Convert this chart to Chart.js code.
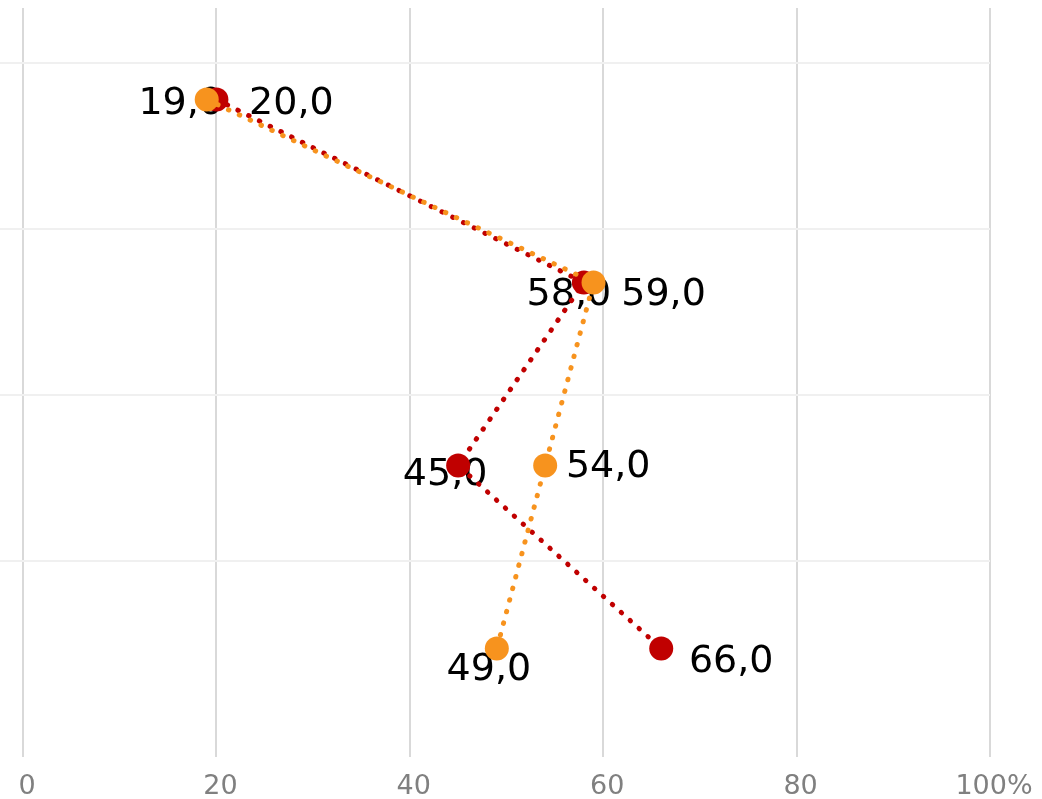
<!DOCTYPE html>
<html>
<head>
<meta charset="utf-8">
<script src="https://cdn.jsdelivr.net/npm/chart.js@4"></script>
<style>
    html, body { margin: 0; padding: 0; background: #ffffff; }
    #wrap { width: 1042px; height: 799px; position: relative; }
</style>
</head>
<body>
<div id="wrap"><canvas id="dotChart"></canvas></div>
<script>
// Data
const categories = ['1', '2', '3', '4'];
const redValues = [20, 58, 45, 66];
const orangeValues = [19, 59, 54, 49];
const xTicks = [0, 20, 40, 60, 80, 100];

// label placement (pixel offsets from each point)
const redLabelOffsets = [[75, 5], [-15, 13], [-13, 10], [70, 14]];
const orangeLabelOffsets = [[-26, 5], [70, 13], [63, 2], [-8, 22]];

const RED = '#C00000';
const ORANGE = '#F7931E';
const FONT = "'DejaVu Sans', Verdana, sans-serif";

function formatValue(v) {
    return v.toFixed(1).replace('.', ',');
}

// draws the value labels underneath the points
const valueLabels = {
    id: 'valueLabels',
    beforeDatasetsDraw(chart) {
        const ctx = chart.ctx;
        ctx.save();
        ctx.font = '38px ' + FONT;
        ctx.fillStyle = '#000000';
        ctx.textAlign = 'center';
        ctx.textBaseline = 'middle';
        chart.data.datasets.forEach((ds, i) => {
            const meta = chart.getDatasetMeta(i);
            meta.data.forEach((pt, j) => {
                const off = ds.labelOffsets[j];
                ctx.fillText(formatValue(ds.data[j]), pt.x + off[0], pt.y + off[1]);
            });
        });
        ctx.restore();
    }
};

const ctx = document.getElementById('dotChart');

new Chart(ctx, {
    type: 'line',
    data: {
        labels: categories,
        datasets: [{
            label: 'Rot',
            data: redValues,
            labelOffsets: redLabelOffsets,
            borderColor: RED,
            backgroundColor: RED,
            borderWidth: 5,
            borderDash: [0.5, 11.5],
            borderCapStyle: 'round',
            pointRadius: 12,
            pointBorderWidth: 0,
            pointBackgroundColor: RED,
            order: 2
        }, {
            label: 'Orange',
            data: orangeValues,
            labelOffsets: orangeLabelOffsets,
            borderColor: ORANGE,
            backgroundColor: ORANGE,
            borderWidth: 5,
            borderDash: [0.5, 11.5],
            borderCapStyle: 'round',
            pointRadius: 12,
            pointBorderWidth: 0,
            pointBackgroundColor: ORANGE,
            order: 1
        }]
    },
    options: {
        indexAxis: 'y',
        responsive: true,
        maintainAspectRatio: false,
        animation: false,
        layout: {
            autoPadding: false,
            padding: { left: 0, right: 52, top: 8, bottom: 0 }
        },
        scales: {
            x: {
                type: 'linear',
                min: 0,
                max: 100,
                afterBuildTicks: scale => {
                    scale.ticks = xTicks.map(v => ({ value: v }));
                },
                afterFit: scale => {
                    scale.height = 59;
                    scale.paddingLeft = 0;
                    scale.paddingRight = 0;
                },
                grid: {
                    color: '#D9D9D9',
                    lineWidth: 2,
                    tickLength: 17
                },
                border: { display: false },
                ticks: {
                    padding: 16,
                    labelOffset: 4,
                    color: '#808080',
                    font: { family: FONT, size: 27, lineHeight: 1 },
                    maxRotation: 0,
                    callback: v => v === 100 ? '100%' : String(v)
                }
            },
            y: {
                type: 'category',
                offset: true,
                display: false
            },
            y2: {
                type: 'linear',
                position: 'left',
                min: -0.08,
                max: 4.33,
                afterBuildTicks: scale => {
                    scale.ticks = [1, 2, 3, 4].map(v => ({ value: v }));
                },
                grid: {
                    color: '#F0F0F0',
                    lineWidth: 2,
                    tickLength: 23
                },
                border: { display: false },
                ticks: { display: false }
            }
        },
        plugins: {
            legend: { display: false },
            tooltip: { enabled: false }
        }
    },
    plugins: [valueLabels]
});
</script>
</body>
</html>
